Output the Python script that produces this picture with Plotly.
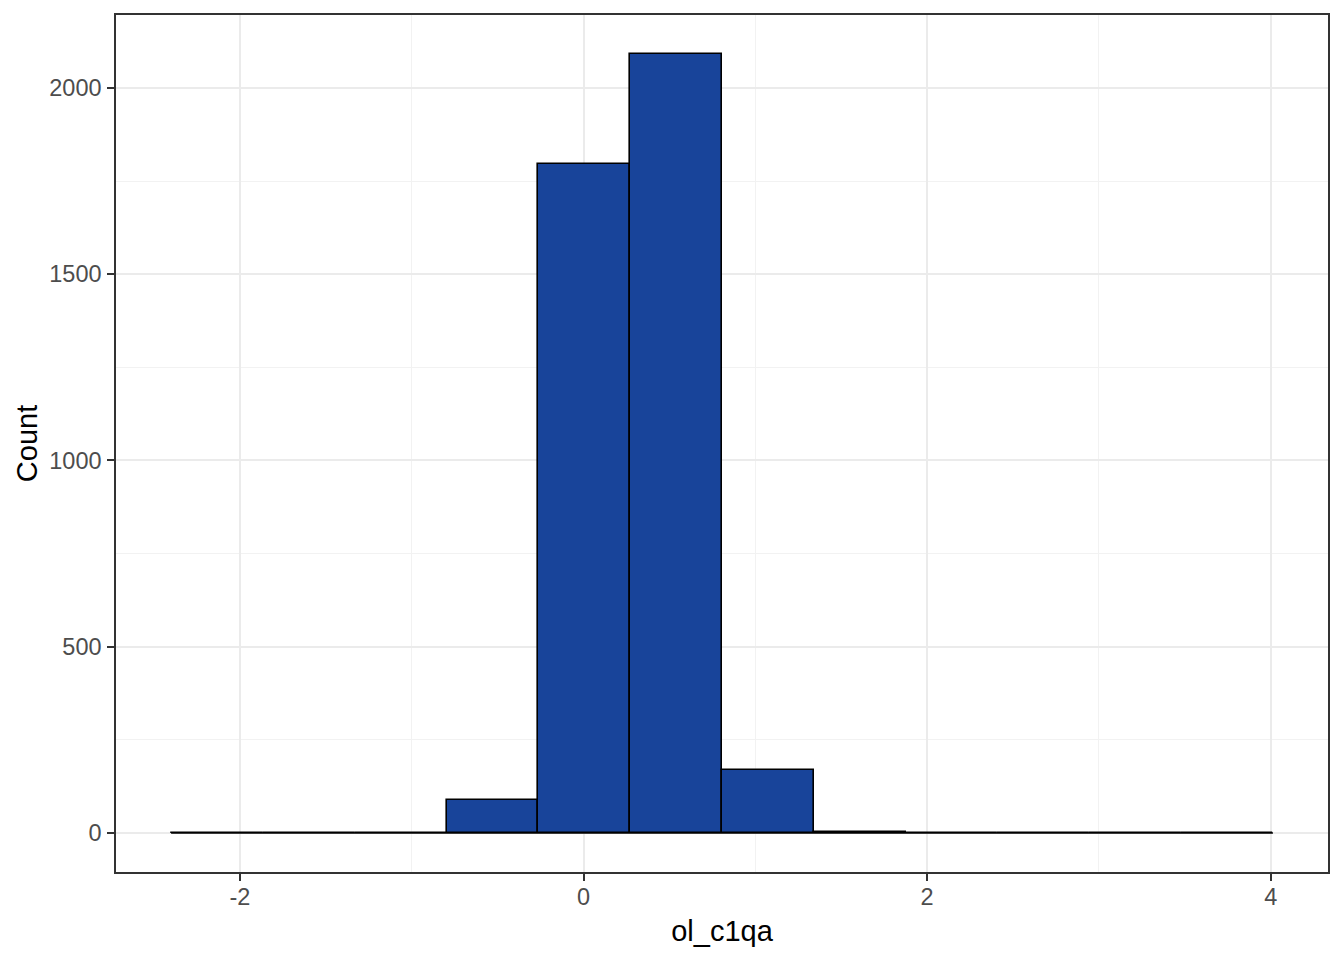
import plotly.graph_objects as go

# Histogram data (12 bins)
bin_start = -2.401
bin_width = 0.5345
counts = [1, 0, 0, 90, 1797, 2091, 169, 4, 0, 0, 0, 1]
x_title = "ol_c1qa"
y_title = "Count"
x_tickvals = [-2, 0, 2, 4]
y_tickvals = [0, 500, 1000, 1500, 2000]

centers = [bin_start + bin_width * (i + 0.5) for i in range(len(counts))]
lo = bin_start
hi = bin_start + bin_width * len(counts)
xpad = 0.05 * (hi - lo)
ymax = max(counts)
ypad = 0.05 * ymax

fig = go.Figure()
fig.add_trace(go.Bar(
    x=centers, y=counts, width=[bin_width] * len(counts),
    marker=dict(color="#18449A", line=dict(color="black", width=1.6)),
    showlegend=False,
))
# baseline outline for empty bins (as drawn by ggplot)
fig.add_trace(go.Scatter(
    x=[lo, hi], y=[0, 0], mode="lines",
    line=dict(color="black", width=1.6), showlegend=False, hoverinfo="skip",
))

font_family = "Liberation Sans, Arial, sans-serif"
axis_common = dict(
    showline=True, mirror=True, linecolor="#333333", linewidth=1.5,
    ticks="outside", ticklen=7, tickwidth=1.5, tickcolor="#333333",
    showgrid=True, gridcolor="#EBEBEB", gridwidth=1.5,
    zeroline=False,
    tickfont=dict(family=font_family, size=23.5, color="#4D4D4D"),
)
fig.update_xaxes(
    **axis_common,
    range=[lo - xpad, hi + xpad],
    tickvals=x_tickvals, ticktext=[str(v) for v in x_tickvals],
    ticklabelstandoff=-4,
    minor=dict(tickvals=[-1, 1, 3], showgrid=True, gridcolor="#F2F2F2", gridwidth=0.8, ticks=""),
    title=dict(text=x_title, font=dict(family=font_family, size=29, color="black"), standoff=12),
)
fig.update_yaxes(
    **axis_common,
    range=[-ypad, ymax + ypad],
    tickvals=y_tickvals, ticktext=[str(v) for v in y_tickvals],
    ticklabelstandoff=1,
    minor=dict(tickvals=[250, 750, 1250, 1750], showgrid=True, gridcolor="#F2F2F2", gridwidth=0.8, ticks=""),
    title=dict(text=y_title, font=dict(family=font_family, size=29, color="black"), standoff=3),
)
fig.update_layout(
    width=1344, height=960,
    margin=dict(l=116, r=16, t=15, b=88),
    plot_bgcolor="white", paper_bgcolor="white",
    bargap=0,
)
fig.write_html("out.html", config={"displayModeBar": False},
               post_script="document.body.style.margin='0';")
